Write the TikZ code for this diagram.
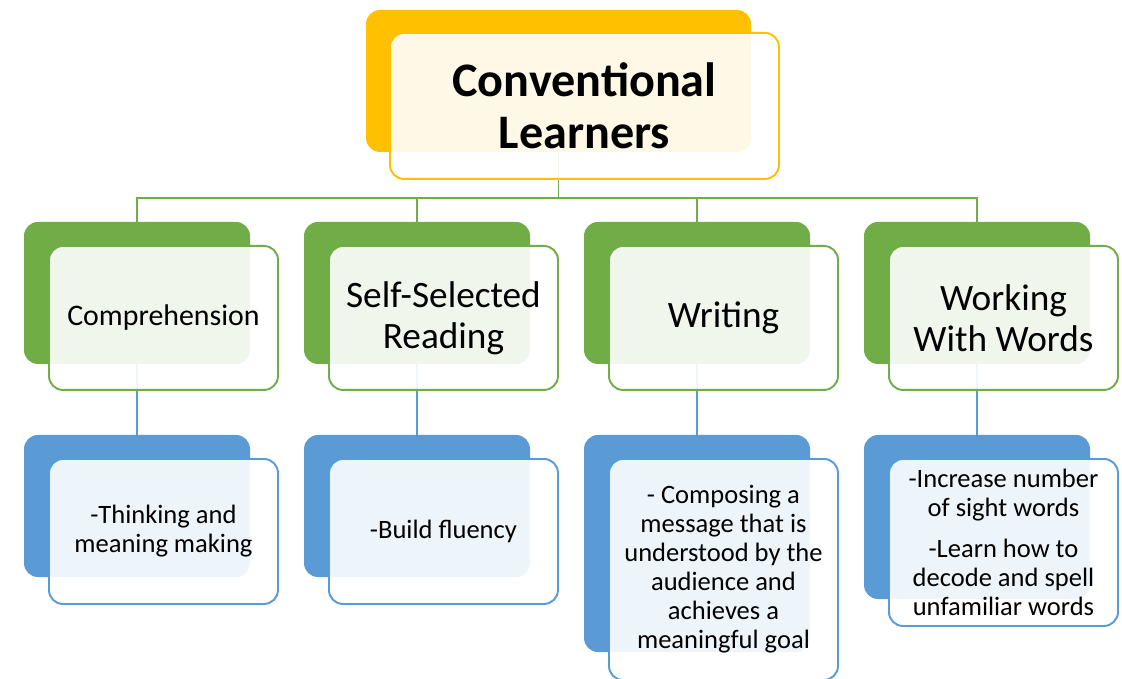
\documentclass[tikz,border=0pt]{standalone}
\usepackage{fontspec}
\setmainfont{Carlito}
\usetikzlibrary{positioning}
\definecolor{gold}{HTML}{FFC000}
\definecolor{leaf}{HTML}{70AD47}
\definecolor{sky}{HTML}{5B9BD5}

\begin{document}
\begin{tikzpicture}[node distance=1.08cm,
    back/.style={rounded corners=0.28cm,inner sep=0pt,outer sep=0pt,
                 minimum width=4.52cm,minimum height=2.84cm},
    front/.style={draw,line width=1.1pt,rounded corners=0.28cm,
                  fill=white,fill opacity=0.9,text opacity=1,
                  anchor=north west,inner sep=0pt,align=center,
                  minimum width=4.58cm,minimum height=2.9cm},
    link/.style={line width=1.1pt},
    big/.style={font=\fontsize{27.4}{29.5}\selectfont\bfseries},
    mid/.style={font=\fontsize{21.2}{23.2}\selectfont},
    small/.style={font=\fontsize{15.1}{16.5}\selectfont}]

  \useasboundingbox (0,0) rectangle (22.44,-13.58);

  % back boxes
  \node[back,fill=gold,minimum width=7.7cm] (topb) at (11.17,-1.62) {};
  \node[back,fill=leaf] (c1b) at (2.74,-5.86) {};
  \node[back,fill=leaf] (c2b) [right=of c1b] {};
  \node[back,fill=leaf] (c3b) [right=of c2b] {};
  \node[back,fill=leaf] (c4b) [right=of c3b] {};
  \node[back,fill=sky]  (d1b) [below=1.42cm of c1b] {};
  \node[back,fill=sky]  (d2b) [below=1.42cm of c2b] {};
  \node[back,fill=sky,minimum height=4.34cm] (d3b) [below=1.42cm of c3b] {};
  \node[back,fill=sky,minimum height=3.28cm] (d4b) [below=1.42cm of c4b] {};

  % connectors
  \coordinate (bus) at ([yshift=-0.92cm]topb.south);
  \draw[link,leaf] (topb.south) -- (bus);
  \draw[link,leaf] (c1b.north) |- (bus);
  \draw[link,leaf] (c2b.north) |- (bus);
  \draw[link,leaf] (c3b.north) |- (bus);
  \draw[link,leaf] (c4b.north) |- (bus);
  \draw[link,sky] (c1b.south) -- (d1b.north);
  \draw[link,sky] (c2b.south) -- (d2b.north);
  \draw[link,sky] (c3b.south) -- (d3b.north);
  \draw[link,sky] (c4b.south) -- (d4b.north);

  % front boxes
  \node[front,draw=gold,big,minimum width=7.78cm,minimum height=2.92cm]
       (top) at ([shift={(0.46,-0.44)}]topb.north west)
       {Conventional\\Learners};
  \node[front,draw=leaf,mid,minimum height=2.88cm]
       (c1) at ([shift={(0.48,-0.46)}]c1b.north west)
       {\fontsize{17}{21}\selectfont Comprehension};
  \node[front,draw=leaf,mid,minimum height=2.88cm]
       (c2) at ([shift={(0.48,-0.46)}]c2b.north west)
       {Self-Selected\\Reading};
  \node[front,draw=leaf,mid,minimum height=2.88cm]
       (c3) at ([shift={(0.48,-0.46)}]c3b.north west)
       {Writing};
  \node[front,draw=leaf,mid,minimum height=2.88cm]
       (c4) at ([shift={(0.48,-0.46)}]c4b.north west)
       {Working\\With Words};
  \node[front,draw=sky,small]
       (d1) at ([shift={(0.48,-0.46)}]d1b.north west)
       {-Thinking and\\meaning making};
  \node[front,draw=sky,small]
       (d2) at ([shift={(0.48,-0.46)}]d2b.north west)
       {-Build fluency};
  \node[front,draw=sky,small,minimum height=4.42cm]
       (d3) at ([shift={(0.48,-0.46)}]d3b.north west)
       {- Composing a\\message that is\\understood by the\\audience and\\achieves a\\meaningful goal};
  \node[front,draw=sky,small,minimum height=3.34cm]
       (d4) at ([shift={(0.48,-0.46)}]d4b.north west)
       {-Increase number\\of sight words\\[6.8pt]-Learn how to\\decode and spell\\unfamiliar words};
\end{tikzpicture}
\end{document}
